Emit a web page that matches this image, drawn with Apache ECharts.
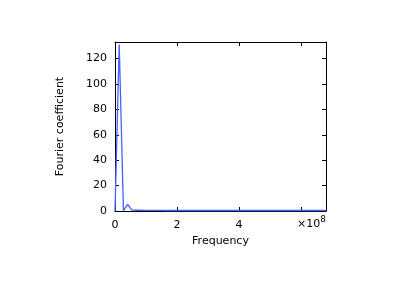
<!DOCTYPE html>
<html>
<head>
<meta charset="utf-8">
<script src="https://cdn.jsdelivr.net/npm/echarts@6/dist/echarts.min.js"></script>
<style>
html,body{margin:0;padding:0;background:#fff;}
#c{width:420px;height:290px;}
</style>
</head>
<body>
<div id="c"></div>
<script>
// Frequency (Hz) of each sample
var frequencies = [
  0, 1.36e7, 2.72e7, 4.08e7, 5.44e7, 6.8e7, 8.16e7, 9.52e7, 1.088e8, 1.224e8,
  1.36e8, 1.496e8, 1.632e8, 1.768e8, 1.904e8, 2.04e8, 2.176e8, 2.312e8, 2.448e8, 2.584e8,
  2.72e8, 2.856e8, 2.992e8, 3.128e8, 3.264e8, 3.4e8, 3.536e8, 3.672e8, 3.808e8, 3.944e8,
  4.08e8, 4.216e8, 4.352e8, 4.488e8, 4.624e8, 4.76e8, 4.896e8, 5.032e8, 5.168e8, 5.304e8,
  5.44e8, 5.576e8, 5.712e8, 5.848e8, 5.984e8, 6.12e8, 6.256e8, 6.392e8, 6.528e8, 6.664e8,
  6.8e8
];
// Fourier coefficient magnitudes
var coefficients = [
  0, 131, 0.3, 5.2, 0.7, 0.6, 0.6, 0.5, 0.5, 0.5,
  0.5, 0.5, 0.4, 0.4, 0.4, 0.4, 0.4, 0.4, 0.4, 0.4,
  0.4, 0.4, 0.4, 0.4, 0.4, 0.4, 0.4, 0.4, 0.4, 0.4,
  0.4, 0.4, 0.4, 0.4, 0.4, 0.4, 0.4, 0.4, 0.4, 0.4,
  0.4, 0.4, 0.4, 0.4, 0.4, 0.4, 0.4, 0.4, 0.4, 0.4,
  0.4
];
var xTickLabels = ['0', '2', '4'];
var yTicks = [0, 20, 40, 60, 80, 100, 120];
var xLabel = 'Frequency';
var yLabel = 'Fourier coefficient';
var exponentText = '×10';
var exponentPower = '8';

var X_MAX = 6.8e8, Y_MAX = 133;
var font = 'DejaVu Sans';
var pairs = frequencies.map(function (f, i) { return [f, coefficients[i]]; });

var chart = echarts.init(document.getElementById('c'), null, {renderer: 'canvas'});
var axisLine = {show: true, onZero: false, lineStyle: {color: '#000', width: 1}};
var tick = {show: true, inside: true, length: 4, lineStyle: {color: '#000'}};
chart.setOption({
  animation: false,
  backgroundColor: '#fff',
  grid: {left: 115, right: 94, top: 42, bottom: 79, containLabel: false},
  xAxis: [{
    type: 'value', min: 0, max: X_MAX, interval: 2e8, position: 'bottom',
    axisLine: axisLine, axisTick: tick, splitLine: {show: false},
    axisLabel: {
      color: '#000', fontFamily: font, fontSize: 11, margin: 9, showMaxLabel: false,
      formatter: function (v) { var k = Math.round(v / 2e8); return (Math.abs(v - k * 2e8) < 1 && k < xTickLabels.length) ? xTickLabels[k] : ''; }
    },
    name: xLabel, nameLocation: 'middle', nameGap: 22,
    nameTextStyle: {color: '#000', fontFamily: font, fontSize: 11}
  }, {
    type: 'value', min: 0, max: X_MAX, interval: 2e8, position: 'top',
    axisLine: axisLine, axisTick: tick, axisLabel: {show: false}, splitLine: {show: false}
  }],
  yAxis: [{
    type: 'value', min: 0, max: Y_MAX, interval: 20, position: 'left',
    axisLine: axisLine, axisTick: tick, splitLine: {show: false},
    axisLabel: {
      color: '#000', fontFamily: font, fontSize: 11, margin: 8, showMaxLabel: false,
      formatter: function (v) { return yTicks.indexOf(v) >= 0 ? String(v) : ''; }
    },
    name: yLabel, nameLocation: 'middle', nameGap: 49, nameRotate: 90,
    nameTextStyle: {color: '#000', fontFamily: font, fontSize: 11}
  }, {
    type: 'value', min: 0, max: Y_MAX, interval: 20, position: 'right',
    axisLine: axisLine, axisTick: tick, axisLabel: {show: false}, splitLine: {show: false}
  }],
  graphic: [{
    type: 'text', right: 94, top: 215, z: 10,
    style: {
      text: '{b|' + exponentText + '}{s|' + exponentPower + '}',
      rich: {
        b: {fontFamily: font, fontSize: 11, fill: '#000', padding: [6, 0, 0, 0]},
        s: {fontFamily: font, fontSize: 9, fill: '#000', padding: [0, 0, 4, 0]}
      }
    }
  }],
  series: [{
    type: 'line', data: pairs, showSymbol: false, symbol: 'none',
    lineStyle: {color: '#4262ff', width: 1.3}, clip: true
  }]
});
</script>
</body>
</html>
